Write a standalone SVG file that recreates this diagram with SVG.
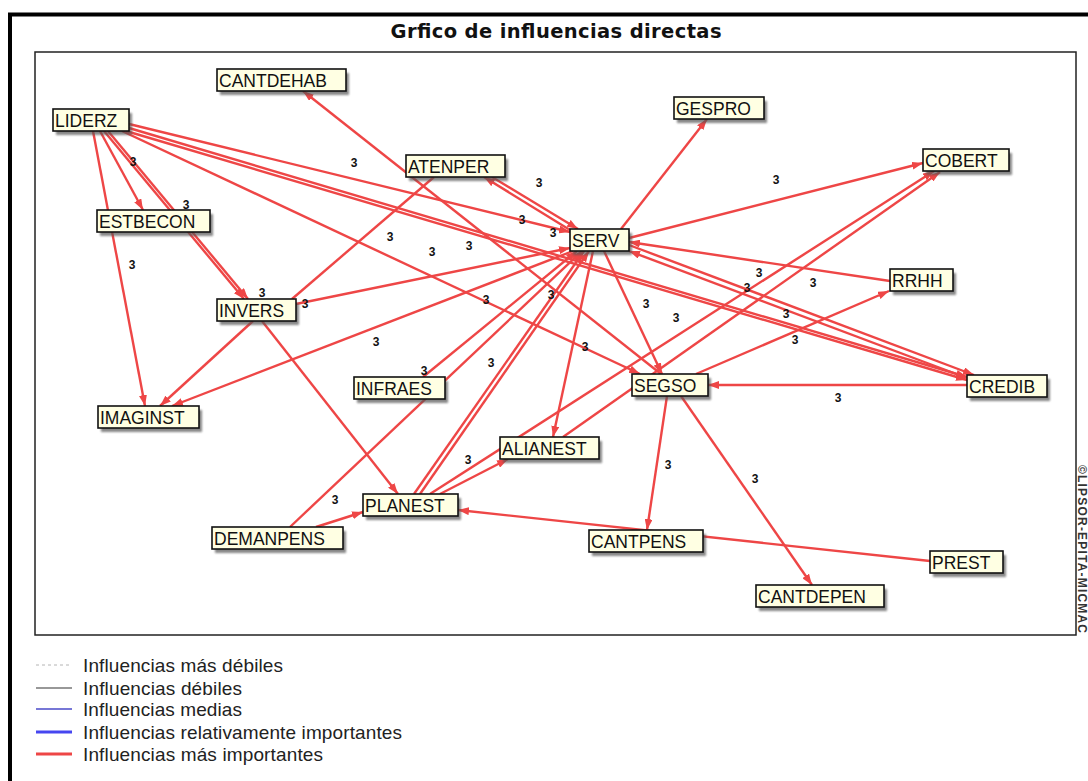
<svg xmlns="http://www.w3.org/2000/svg" width="1088" height="781" viewBox="0 0 1088 781">
  <style>
    .edge { stroke: #ee4646; stroke-width: 2.4; fill: none; marker-end: url(#ah); }
    .plain { stroke: #ee4646; stroke-width: 2.4; fill: none; }
    .lbl { font-family: "Liberation Sans", Arial, sans-serif; font-size: 12px; font-weight: bold; fill: #111; text-anchor: middle; }
    .node .sh { fill: #555; opacity: 0.7; filter: url(#soft); }
    .node .box { fill: #ffffe3; stroke: #111; stroke-width: 1.6; }
    .node text { font-family: "Liberation Sans", Arial, sans-serif; font-size: 17.5px; fill: #111; }
    .leg { font-family: "Liberation Sans", Arial, sans-serif; font-size: 19px; fill: #222; }
  </style>
  <defs>
    <marker id="ah" markerUnits="userSpaceOnUse" markerWidth="11" markerHeight="8" refX="11" refY="4" orient="auto">
      <path d="M0,0 L11,4 L0,8 z" fill="#ee4646"/>
    </marker>
    <filter id="soft" x="-10%" y="-30%" width="120%" height="160%">
      <feGaussianBlur stdDeviation="1.3"/>
    </filter>
  </defs>

  <rect width="1088" height="781" fill="#ffffff"/>

  <!-- window frame -->
  <path d="M10,781 V14.5 H1088" fill="none" stroke="#000" stroke-width="4"/>

  <!-- title -->
  <text x="556" y="38" text-anchor="middle" font-family="DejaVu Sans, Verdana, sans-serif" font-weight="bold" font-size="19.5" textLength="331" fill="#111">Grfico de influencias directas</text>

  <!-- plot area -->
  <rect x="35" y="52" width="1041" height="583" fill="#fff" stroke="#222" stroke-width="1.5"/>

  <!-- copyright, rotated -->
  <text transform="translate(1078,465) rotate(90)" font-family="Liberation Sans, Arial, sans-serif" font-weight="bold" font-size="12" textLength="168" fill="#333">©LIPSOR-EPITA-MICMAC</text>

  <!-- connectors -->
  <g id="connectors">
    <line class="edge" x1="100" y1="131" x2="143" y2="210"/>
    <line class="edge" x1="104" y1="131" x2="244" y2="299"/>
    <line class="edge" x1="108" y1="131" x2="248" y2="299"/>
    <line class="edge" x1="93" y1="131" x2="145" y2="406"/>
    <line class="edge" x1="129" y1="124" x2="570" y2="232"/>
    <line class="edge" x1="129" y1="128" x2="967" y2="377"/>
    <line class="edge" x1="126" y1="131" x2="967" y2="380"/>
    <line class="edge" x1="122" y1="131" x2="640" y2="374"/>
    <line class="edge" x1="661" y1="374" x2="303" y2="91"/>
    <line class="edge" x1="492" y1="177" x2="578" y2="229"/>
    <line class="edge" x1="570" y1="230" x2="484" y2="177"/>
    <line class="plain" x1="292" y1="299" x2="434" y2="177"/>
    <line class="edge" x1="296" y1="304" x2="570" y2="248"/>
    <line class="edge" x1="573" y1="251" x2="172" y2="406"/>
    <line class="edge" x1="253" y1="321" x2="160" y2="406"/>
    <line class="edge" x1="262" y1="321" x2="398" y2="494"/>
    <line class="edge" x1="423" y1="377" x2="577" y2="251"/>
    <line class="edge" x1="290" y1="527" x2="582" y2="251"/>
    <line class="edge" x1="316" y1="527" x2="363" y2="512"/>
    <line class="edge" x1="414" y1="494" x2="584" y2="251"/>
    <line class="edge" x1="420" y1="494" x2="589" y2="251"/>
    <line class="edge" x1="440" y1="494" x2="508" y2="459"/>
    <line class="edge" x1="430" y1="494" x2="934" y2="171"/>
    <line class="edge" x1="563" y1="437" x2="940" y2="172"/>
    <line class="edge" x1="593" y1="251" x2="553" y2="437"/>
    <line class="edge" x1="604" y1="251" x2="662" y2="374"/>
    <line class="edge" x1="621" y1="229" x2="707" y2="119"/>
    <line class="edge" x1="629" y1="238" x2="923" y2="163"/>
    <line class="edge" x1="890" y1="281" x2="629" y2="242"/>
    <line class="edge" x1="629" y1="245" x2="974" y2="375"/>
    <line class="edge" x1="967" y1="378" x2="629" y2="251"/>
    <line class="edge" x1="696" y1="374" x2="889" y2="291"/>
    <line class="edge" x1="967" y1="385" x2="708" y2="385"/>
    <line class="edge" x1="667" y1="396" x2="647" y2="530"/>
    <line class="edge" x1="681" y1="396" x2="812" y2="585"/>
    <line class="edge" x1="930" y1="561" x2="458" y2="510"/>
  </g>

  <!-- influence values -->
  <g id="values">
    <text class="lbl" x="133" y="166">3</text>
    <text class="lbl" x="186" y="209">3</text>
    <text class="lbl" x="132" y="269">3</text>
    <text class="lbl" x="262" y="297">3</text>
    <text class="lbl" x="305" y="308">3</text>
    <text class="lbl" x="354" y="167">3</text>
    <text class="lbl" x="539" y="187">3</text>
    <text class="lbl" x="522" y="224">3</text>
    <text class="lbl" x="553" y="237">3</text>
    <text class="lbl" x="390" y="241">3</text>
    <text class="lbl" x="432" y="256">3</text>
    <text class="lbl" x="469" y="250">3</text>
    <text class="lbl" x="486" y="304">3</text>
    <text class="lbl" x="551" y="299">3</text>
    <text class="lbl" x="646" y="308">3</text>
    <text class="lbl" x="676" y="322">3</text>
    <text class="lbl" x="376" y="346">3</text>
    <text class="lbl" x="491" y="367">3</text>
    <text class="lbl" x="424" y="375">3</text>
    <text class="lbl" x="468" y="464">3</text>
    <text class="lbl" x="335" y="504">3</text>
    <text class="lbl" x="776" y="184">3</text>
    <text class="lbl" x="759" y="277">3</text>
    <text class="lbl" x="747" y="292">3</text>
    <text class="lbl" x="813" y="287">3</text>
    <text class="lbl" x="786" y="318">3</text>
    <text class="lbl" x="795" y="344">3</text>
    <text class="lbl" x="838" y="402">3</text>
    <text class="lbl" x="585" y="351">3</text>
    <text class="lbl" x="668" y="469">3</text>
    <text class="lbl" x="755" y="483">3</text>
  </g>

  <!-- nodes -->
  <g id="n-CANTDEHAB" class="node"><rect class="sh" x="220" y="73" width="129" height="22"/><rect class="box" x="217" y="69" width="129" height="22"/><text x="219" y="86.5">CANTDEHAB</text></g>
  <g id="n-LIDERZ" class="node"><rect class="sh" x="56" y="113" width="76" height="22"/><rect class="box" x="53" y="109" width="76" height="22"/><text x="55" y="126.5">LIDERZ</text></g>
  <g id="n-GESPRO" class="node"><rect class="sh" x="677" y="101" width="90" height="22"/><rect class="box" x="674" y="97" width="90" height="22"/><text x="676" y="114.5">GESPRO</text></g>
  <g id="n-ATENPER" class="node"><rect class="sh" x="409" y="159" width="99" height="22"/><rect class="box" x="406" y="155" width="99" height="22"/><text x="408" y="172.5">ATENPER</text></g>
  <g id="n-COBERT" class="node"><rect class="sh" x="926" y="153" width="86" height="22"/><rect class="box" x="923" y="149" width="86" height="22"/><text x="925" y="166.5">COBERT</text></g>
  <g id="n-ESTBECON" class="node"><rect class="sh" x="100" y="214" width="113" height="22"/><rect class="box" x="97" y="210" width="113" height="22"/><text x="99" y="227.5">ESTBECON</text></g>
  <g id="n-SERV" class="node"><rect class="sh" x="573" y="233" width="59" height="22"/><rect class="box" x="570" y="229" width="59" height="22"/><text x="572" y="246.5">SERV</text></g>
  <g id="n-RRHH" class="node"><rect class="sh" x="893" y="273" width="63" height="22"/><rect class="box" x="890" y="269" width="63" height="22"/><text x="892" y="286.5">RRHH</text></g>
  <g id="n-INVERS" class="node"><rect class="sh" x="220" y="303" width="79" height="22"/><rect class="box" x="217" y="299" width="79" height="22"/><text x="219" y="316.5">INVERS</text></g>
  <g id="n-INFRAES" class="node"><rect class="sh" x="357" y="381" width="91" height="22"/><rect class="box" x="354" y="377" width="91" height="22"/><text x="356" y="394.5">INFRAES</text></g>
  <g id="n-SEGSO" class="node"><rect class="sh" x="635" y="378" width="76" height="22"/><rect class="box" x="632" y="374" width="76" height="22"/><text x="634" y="391.5">SEGSO</text></g>
  <g id="n-CREDIB" class="node"><rect class="sh" x="970" y="379" width="80" height="22"/><rect class="box" x="967" y="375" width="80" height="22"/><text x="969" y="392.5">CREDIB</text></g>
  <g id="n-IMAGINST" class="node"><rect class="sh" x="101" y="410" width="101" height="22"/><rect class="box" x="98" y="406" width="101" height="22"/><text x="100" y="423.5">IMAGINST</text></g>
  <g id="n-ALIANEST" class="node"><rect class="sh" x="503" y="441" width="99" height="22"/><rect class="box" x="500" y="437" width="99" height="22"/><text x="502" y="454.5">ALIANEST</text></g>
  <g id="n-PLANEST" class="node"><rect class="sh" x="366" y="498" width="95" height="22"/><rect class="box" x="363" y="494" width="95" height="22"/><text x="365" y="511.5">PLANEST</text></g>
  <g id="n-DEMANPENS" class="node"><rect class="sh" x="215" y="531" width="131" height="22"/><rect class="box" x="212" y="527" width="131" height="22"/><text x="214" y="544.5">DEMANPENS</text></g>
  <g id="n-CANTPENS" class="node"><rect class="sh" x="592" y="534" width="114" height="22"/><rect class="box" x="589" y="530" width="114" height="22"/><text x="591" y="547.5">CANTPENS</text></g>
  <g id="n-PREST" class="node"><rect class="sh" x="933" y="555" width="73" height="22"/><rect class="box" x="930" y="551" width="73" height="22"/><text x="932" y="568.5">PREST</text></g>
  <g id="n-CANTDEPEN" class="node"><rect class="sh" x="759" y="589" width="128" height="22"/><rect class="box" x="756" y="585" width="128" height="22"/><text x="758" y="602.5">CANTDEPEN</text></g>

  <!-- legend -->
  <g id="legend">
    <line x1="36" y1="665" x2="72" y2="665" stroke="#b4b4b4" stroke-width="1" stroke-dasharray="3,3"/>
    <line x1="36" y1="688" x2="72" y2="688" stroke="#333" stroke-width="1.2"/>
    <line x1="36" y1="709" x2="72" y2="709" stroke="#4a4ac8" stroke-width="1.5"/>
    <line x1="36" y1="732" x2="72" y2="732" stroke="#4646f0" stroke-width="3"/>
    <line x1="36" y1="754" x2="72" y2="754" stroke="#ee4646" stroke-width="3"/>
    <text class="leg" x="83" y="672" textLength="200">Influencias más débiles</text>
    <text class="leg" x="83" y="695" textLength="159">Influencias débiles</text>
    <text class="leg" x="83" y="716" textLength="159">Influencias medias</text>
    <text class="leg" x="83" y="739" textLength="319">Influencias relativamente importantes</text>
    <text class="leg" x="83" y="761" textLength="240">Influencias más importantes</text>
  </g>
</svg>
